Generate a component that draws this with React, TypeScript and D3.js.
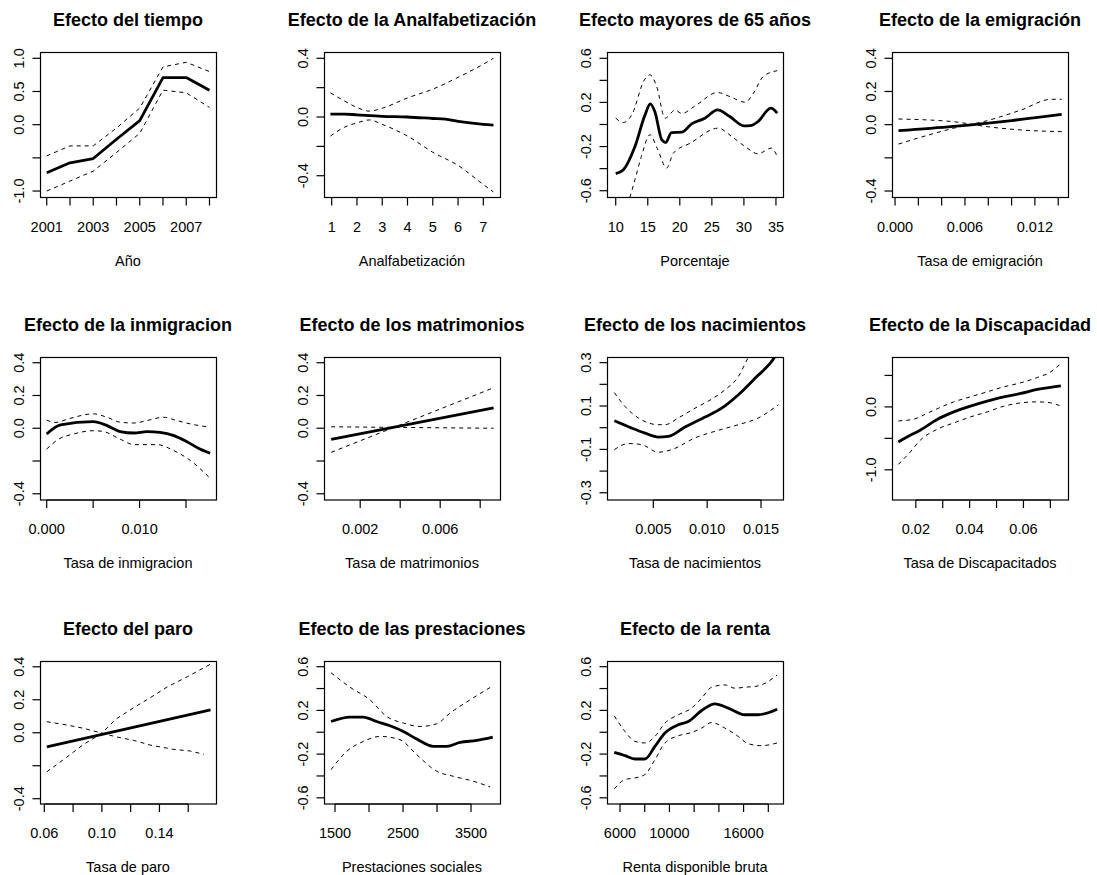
import React, { useEffect, useRef } from "react";
import * as d3 from "d3";

type Pt = [number, number];

// Efecto del tiempo
const tiempoFit: Pt[] = [[2001, -0.725], [2002, -0.575], [2003, -0.51], [2004, -0.22], [2005, 0.06], [2006, 0.71], [2007, 0.71], [2008, 0.52]];
const tiempoUp: Pt[] = [[2001, -0.47], [2002, -0.32], [2003, -0.32], [2004, -0.05], [2005, 0.25], [2006, 0.87], [2007, 0.94], [2008, 0.8]];
const tiempoLo: Pt[] = [[2001, -1.0], [2002, -0.85], [2003, -0.7], [2004, -0.42], [2005, -0.13], [2006, 0.52], [2007, 0.48], [2008, 0.26]];

// Analfabetizacion
const analfFit: Pt[] = [[0.95, 0.02], [1.5, 0.02], [2, 0.015], [3, 0.005], [4, 0.0], [5, -0.01], [5.5, -0.015], [6, -0.03], [7, -0.05], [7.4, -0.055]];
const analfUp: Pt[] = [[0.95, 0.165], [1.5, 0.11], [2, 0.065], [2.5, 0.04], [3, 0.06], [4, 0.13], [5, 0.19], [6, 0.27], [7, 0.36], [7.4, 0.4]];
const analfLo: Pt[] = [[0.95, -0.13], [1.5, -0.07], [2, -0.04], [2.5, -0.02], [3, -0.05], [4, -0.13], [5, -0.24], [6, -0.33], [7, -0.46], [7.4, -0.51]];

// mayores de 65
const edadFit: Pt[] = [[10, -0.446], [11.2, -0.41], [13, -0.2], [14.57, 0.087], [15.4, 0.187], [16.1, 0.117], [17.2, -0.14], [17.8, -0.163], [18.7, -0.073], [20.3, -0.07], [21.85, 0.006], [23.9, 0.057], [25.9, 0.133], [27.8, 0.072], [30, -0.012], [31, -0.01], [32.2, 0.027], [34.2, 0.148], [35.2, 0.103]];
const edadUp: Pt[] = [[10, 0.057], [11.2, 0.018], [12.5, 0.087], [14.47, 0.404], [15.35, 0.45], [16.4, 0.343], [17.7, 0.057], [19.25, 0.13], [20.3, 0.1], [22.4, 0.169], [25.9, 0.29], [27.8, 0.253], [30.2, 0.202], [31.5, 0.284], [33, 0.434], [35.2, 0.488]];
const edadLo: Pt[] = [[10, -1.0], [11.2, -0.8], [12.2, -0.66], [13, -0.5], [14, -0.29], [15.35, -0.093], [16.5, -0.22], [17.95, -0.395], [19, -0.259], [21.6, -0.17], [26, -0.033], [28.1, -0.109], [30.2, -0.2], [32.2, -0.265], [34.3, -0.214], [35.2, -0.29]];

// emigracion
const emigFit: Pt[] = [[0.0003, -0.036], [0.005, -0.01], [0.01, 0.025], [0.0143, 0.062]];
const emigUp: Pt[] = [[0.0003, 0.034], [0.005, 0.018], [0.0079, -0.012], [0.0108, -0.032], [0.0143, -0.042]];
const emigLo: Pt[] = [[0.0003, -0.117], [0.0022, -0.076], [0.005, -0.022], [0.0079, 0.024], [0.0108, 0.088], [0.0134, 0.153], [0.0143, 0.153]];

// inmigracion
const inmigFit: Pt[] = [[0, -0.035], [0.0015, 0.02], [0.005, 0.04], [0.0065, 0.016], [0.0079, -0.02], [0.0094, -0.029], [0.0108, -0.02], [0.0122, -0.025], [0.0137, -0.045], [0.0151, -0.082], [0.0165, -0.127], [0.0176, -0.153]];
const inmigUp: Pt[] = [[0, 0.05], [0.0009, 0.035], [0.0025, 0.06], [0.005, 0.088], [0.0065, 0.067], [0.0079, 0.037], [0.0094, 0.032], [0.0108, 0.047], [0.0126, 0.067], [0.014, 0.047], [0.0155, 0.026], [0.0176, 0.006]];
const inmigLo: Pt[] = [[0, -0.127], [0.0013, -0.066], [0.0029, -0.035], [0.005, -0.015], [0.0061, -0.02], [0.0079, -0.066], [0.0094, -0.1], [0.0119, -0.1], [0.0137, -0.137], [0.0155, -0.198], [0.0176, -0.306]];

// matrimonios
const matrFit: Pt[] = [[0.00055, -0.068], [0.00867, 0.125]];
const matrUp: Pt[] = [[0.00055, -0.147], [0.00867, 0.247]];
const matrLo: Pt[] = [[0.00055, 0.009], [0.004, 0.005], [0.00867, 0.0]];

// nacimientos
const nacFit: Pt[] = [[0.00138, 0.032], [0.003, -0.002], [0.00423, -0.025], [0.00546, -0.043], [0.0064, -0.04], [0.00794, 0.003], [0.0098, 0.049], [0.01135, 0.09], [0.0129, 0.152], [0.01444, 0.228], [0.0163, 0.328], [0.01644, 0.34]];
const nacUp: Pt[] = [[0.00138, 0.162], [0.00237, 0.098], [0.00361, 0.045], [0.00546, 0.014], [0.00609, 0.014], [0.00732, 0.045], [0.00887, 0.09], [0.01042, 0.132], [0.01166, 0.175], [0.0129, 0.236], [0.01382, 0.325], [0.0155, 0.45]];
const nacLo: Pt[] = [[0.00138, -0.101], [0.00268, -0.073], [0.00392, -0.078], [0.00546, -0.113], [0.00671, -0.101], [0.00887, -0.047], [0.01104, -0.012], [0.0129, 0.014], [0.01475, 0.045], [0.01661, 0.106]];

// Discapacidad
const discFit: Pt[] = [[0.0135, -0.558], [0.0179, -0.451], [0.0216, -0.372], [0.0279, -0.201], [0.0341, -0.08], [0.0403, 0.011], [0.0465, 0.091], [0.0527, 0.16], [0.059, 0.213], [0.0652, 0.277], [0.0739, 0.335]];
const discUp: Pt[] = [[0.0135, -0.223], [0.0191, -0.196], [0.0253, -0.08], [0.0341, 0.08], [0.0403, 0.16], [0.0465, 0.239], [0.0527, 0.319], [0.059, 0.383], [0.0652, 0.468], [0.0702, 0.558], [0.0739, 0.692]];
const discLo: Pt[] = [[0.0135, -0.914], [0.0179, -0.718], [0.0216, -0.531], [0.0279, -0.356], [0.0341, -0.255], [0.0403, -0.16], [0.0465, -0.08], [0.0527, 0.011], [0.059, 0.064], [0.0652, 0.08], [0.0702, 0.064], [0.0739, 0.011]];

// paro
const paroFit: Pt[] = [[0.0617, -0.085], [0.1755, 0.138]];
const paroUp: Pt[] = [[0.0617, -0.237], [0.0756, -0.148], [0.0872, -0.071], [0.0988, -0.01], [0.1105, 0.087], [0.1221, 0.152], [0.1337, 0.213], [0.1454, 0.278], [0.1593, 0.339], [0.1755, 0.416]];
const paroLo: Pt[] = [[0.0617, 0.067], [0.0756, 0.047], [0.0872, 0.027], [0.0988, 0.0], [0.1105, -0.026], [0.1221, -0.046], [0.1337, -0.075], [0.15, -0.101], [0.1616, -0.111], [0.1709, -0.131]];

// prestaciones
const prestFit: Pt[] = [[1441, 0.098], [1721, 0.139], [1916, 0.139], [2113, 0.098], [2309, 0.059], [2505, 0.007], [2701, -0.062], [2946, -0.129], [3142, -0.129], [3338, -0.093], [3584, -0.075], [3819, -0.044]];
const prestUp: Pt[] = [[1441, 0.545], [1721, 0.412], [2015, 0.296], [2260, 0.144], [2505, 0.084], [2750, 0.053], [2995, 0.077], [3191, 0.175], [3485, 0.296], [3819, 0.424]];
const prestLo: Pt[] = [[1441, -0.342], [1672, -0.175], [1916, -0.084], [2162, -0.038], [2456, -0.068], [2701, -0.205], [2995, -0.357], [3240, -0.403], [3534, -0.448], [3779, -0.5]];

// renta
const rentaFit: Pt[] = [[5539, -0.184], [6404, -0.214], [7213, -0.245], [8021, -0.245], [8829, -0.129], [9638, -0.007], [10716, 0.068], [11521, 0.098], [12605, 0.199], [13680, 0.26], [14755, 0.221], [16105, 0.16], [17180, 0.16], [18716, 0.211]];
const rentaUp: Pt[] = [[5539, 0.15], [6404, 0.007], [7213, -0.084], [8021, -0.098], [8829, -0.038], [9638, 0.084], [10716, 0.16], [11796, 0.221], [12605, 0.312], [13413, 0.412], [14488, 0.433], [15297, 0.403], [16105, 0.412], [17180, 0.424], [18716, 0.524]];
const rentaLo: Pt[] = [[5539, -0.518], [6404, -0.433], [7213, -0.418], [8021, -0.387], [8829, -0.251], [9638, -0.098], [10716, -0.032], [11796, -0.002], [12605, 0.038], [13413, 0.089], [14488, 0.038], [15563, -0.038], [16372, -0.105], [17453, -0.123], [18716, -0.098]];

const titles = ["Efecto del tiempo", "Efecto de la Analfabetización", "Efecto mayores de 65 años", "Efecto de la emigración",
  "Efecto de la inmigracion", "Efecto de los matrimonios", "Efecto de los nacimientos", "Efecto de la Discapacidad",
  "Efecto del paro", "Efecto de las prestaciones", "Efecto de la renta"];
const xLabels = ["Año", "Analfabetización", "Porcentaje", "Tasa de emigración",
  "Tasa de inmigracion", "Tasa de matrimonios", "Tasa de nacimientos", "Tasa de Discapacitados",
  "Tasa de paro", "Prestaciones sociales", "Renta disponible bruta"];

const xLims: Pt[] = [[2000.71, 2008.28], [0.696, 7.66], [8.64, 36.1], [-0.00026, 0.01484],
  [-0.00072, 0.01823], [0.00019, 0.00899], [0.0007, 0.01704], [0.01114, 0.07656],
  [0.057, 0.1793], [1338, 3926], [4949, 19188]];
const yLims: Pt[] = [[-1.09, 1.095], [-0.545, 0.443], [-0.657, 0.657], [-0.436, 0.438],
  [-0.435, 0.435], [-0.435, 0.435], [-0.331, 0.326], [-1.472, 0.793],
  [-0.429, 0.435], [-0.652, 0.652], [-0.652, 0.652]];

// ticks; "" = tick without label
const xTicks: [number, string][][] = [
  [[2001, "2001"], [2002, ""], [2003, "2003"], [2004, ""], [2005, "2005"], [2006, ""], [2007, "2007"], [2008, ""]],
  [[1, "1"], [2, "2"], [3, "3"], [4, "4"], [5, "5"], [6, "6"], [7, "7"]],
  [[10, "10"], [15, "15"], [20, "20"], [25, "25"], [30, "30"], [35, "35"]],
  [[0, "0.000"], [0.002, ""], [0.004, ""], [0.006, "0.006"], [0.008, ""], [0.01, ""], [0.012, "0.012"], [0.014, ""]],
  [[0, "0.000"], [0.005, ""], [0.01, "0.010"], [0.015, ""]],
  [[0.002, "0.002"], [0.004, ""], [0.006, "0.006"], [0.008, ""]],
  [[0.005, "0.005"], [0.01, "0.010"], [0.015, "0.015"]],
  [[0.02, "0.02"], [0.03, ""], [0.04, "0.04"], [0.05, ""], [0.06, "0.06"], [0.07, ""]],
  [[0.06, "0.06"], [0.08, ""], [0.1, "0.10"], [0.12, ""], [0.14, "0.14"], [0.16, ""]],
  [[1500, "1500"], [2000, ""], [2500, "2500"], [3000, ""], [3500, "3500"]],
  [[6000, "6000"], [8000, ""], [10000, "10000"], [12000, ""], [14000, ""], [16000, "16000"], [18000, ""]],
];
const yTicks: [number, string][][] = [
  [[-1, "-1.0"], [-0.5, ""], [0, "0.0"], [0.5, "0.5"], [1, "1.0"]],
  [[-0.4, "-0.4"], [-0.2, ""], [0, "0.0"], [0.2, ""], [0.4, "0.4"]],
  [[-0.6, "-0.6"], [-0.4, ""], [-0.2, "-0.2"], [0, ""], [0.2, "0.2"], [0.4, ""], [0.6, "0.6"]],
  [[-0.4, "-0.4"], [-0.2, ""], [0, "0.0"], [0.2, "0.2"], [0.4, "0.4"]],
  [[-0.4, "-0.4"], [-0.2, ""], [0, "0.0"], [0.2, "0.2"], [0.4, "0.4"]],
  [[-0.4, "-0.4"], [-0.2, ""], [0, "0.0"], [0.2, "0.2"], [0.4, "0.4"]],
  [[-0.3, "-0.3"], [-0.2, ""], [-0.1, "-0.1"], [0, ""], [0.1, "0.1"], [0.2, ""], [0.3, "0.3"]],
  [[-1, "-1.0"], [-0.5, ""], [0, "0.0"], [0.5, ""]],
  [[-0.4, "-0.4"], [-0.2, ""], [0, "0.0"], [0.2, "0.2"], [0.4, "0.4"]],
  [[-0.6, "-0.6"], [-0.4, ""], [-0.2, "-0.2"], [0, ""], [0.2, "0.2"], [0.4, ""], [0.6, "0.6"]],
  [[-0.6, "-0.6"], [-0.4, ""], [-0.2, "-0.2"], [0, ""], [0.2, "0.2"], [0.4, ""], [0.6, "0.6"]],
];

const fits = [tiempoFit, analfFit, edadFit, emigFit, inmigFit, matrFit, nacFit, discFit, paroFit, prestFit, rentaFit];
const ups = [tiempoUp, analfUp, edadUp, emigUp, inmigUp, matrUp, nacUp, discUp, paroUp, prestUp, rentaUp];
const los = [tiempoLo, analfLo, edadLo, emigLo, inmigLo, matrLo, nacLo, discLo, paroLo, prestLo, rentaLo];

const FONT = "'Liberation Sans', Arial, sans-serif";

function App() {
  const ref = useRef<SVGSVGElement>(null);

  useEffect(() => {
    const svg = d3.select(ref.current);
    svg.selectAll("*").remove();

    const colLeft = [40, 324, 607, 892];
    const boxW = 176;
    const rowTop = [52, 357, 661];
    const rowBottom = [197, 499.5, 803.5];

    titles.forEach((title, i) => {
      const c = i % 4;
      const r = Math.floor(i / 4);
      const left = colLeft[c];
      const top = rowTop[r];
      const bottom = rowBottom[r];
      const x = d3.scaleLinear().domain(xLims[i]).range([left, left + boxW]);
      const y = d3.scaleLinear().domain(yLims[i]).range([bottom, top]);
      const g = svg.append("g");

      g.append("clipPath").attr("id", "clip" + i)
        .append("rect").attr("x", left).attr("y", top).attr("width", boxW).attr("height", bottom - top);

      const line = d3.line<Pt>()
        .x(d => x(d[0]))
        .y(d => y(d[1]))
        .curve(i === 0 || i === 5 || i === 8 ? d3.curveLinear : d3.curveMonotoneX);

      const lines = g.append("g").attr("clip-path", `url(#clip${i})`);
      [ups[i], los[i]].forEach(s => {
        lines.append("path").attr("d", line(s))
          .attr("fill", "none").attr("stroke", "#000").attr("stroke-width", 1)
          .attr("stroke-dasharray", "4,4");
      });
      lines.append("path").attr("d", line(fits[i]))
        .attr("fill", "none").attr("stroke", "#000").attr("stroke-width", 2.8)
        .attr("stroke-linejoin", "round");

      // box
      g.append("rect")
        .attr("x", left + 0.5).attr("y", top + 0.5)
        .attr("width", boxW).attr("height", bottom - top)
        .attr("fill", "none").attr("stroke", "#000").attr("stroke-width", 1.2);

      // x axis
      const xt = xTicks[i];
      const by = bottom + 0.5;
      g.append("line")
        .attr("x1", x(xt[0][0])).attr("x2", x(xt[xt.length - 1][0]))
        .attr("y1", by).attr("y2", by).attr("stroke", "#000");
      xt.forEach(([v, lab]) => {
        g.append("line").attr("x1", x(v)).attr("x2", x(v))
          .attr("y1", by).attr("y2", by + 8).attr("stroke", "#000").attr("stroke-width", 1.2);
        if (lab) {
          g.append("text").attr("x", x(v)).attr("y", bottom + 34.5)
            .attr("text-anchor", "middle").attr("font-family", FONT).attr("font-size", 14.5)
            .attr("fill", "#000").text(lab);
        }
      });

      // y axis
      const yt = yTicks[i];
      const lx = left + 0.5;
      g.append("line")
        .attr("x1", lx).attr("x2", lx)
        .attr("y1", y(yt[0][0])).attr("y2", y(yt[yt.length - 1][0])).attr("stroke", "#000");
      yt.forEach(([v, lab]) => {
        g.append("line").attr("x1", lx - 8).attr("x2", lx)
          .attr("y1", y(v)).attr("y2", y(v)).attr("stroke", "#000").attr("stroke-width", 1.2);
        if (lab) {
          g.append("text")
            .attr("transform", `translate(${left - 16},${y(v)}) rotate(-90)`)
            .attr("text-anchor", "middle").attr("font-family", FONT).attr("font-size", 14.5)
            .attr("fill", "#000").text(lab);
        }
      });

      // title and axis label
      g.append("text").attr("x", left + boxW / 2).attr("y", top - 26)
        .attr("text-anchor", "middle").attr("font-family", FONT).attr("font-size", 18)
        .attr("font-weight", "bold").attr("fill", "#000").text(title);
      g.append("text").attr("x", left + boxW / 2).attr("y", bottom + 68.5)
        .attr("text-anchor", "middle").attr("font-family", FONT).attr("font-size", 14.5)
        .attr("fill", "#000").text(xLabels[i]);
    });
  }, []);

  return (
    <svg ref={ref} width={1097} height={875}
      style={{ position: "absolute", left: 0, top: 0, background: "#fff" }} />
  );
}

export default App;
